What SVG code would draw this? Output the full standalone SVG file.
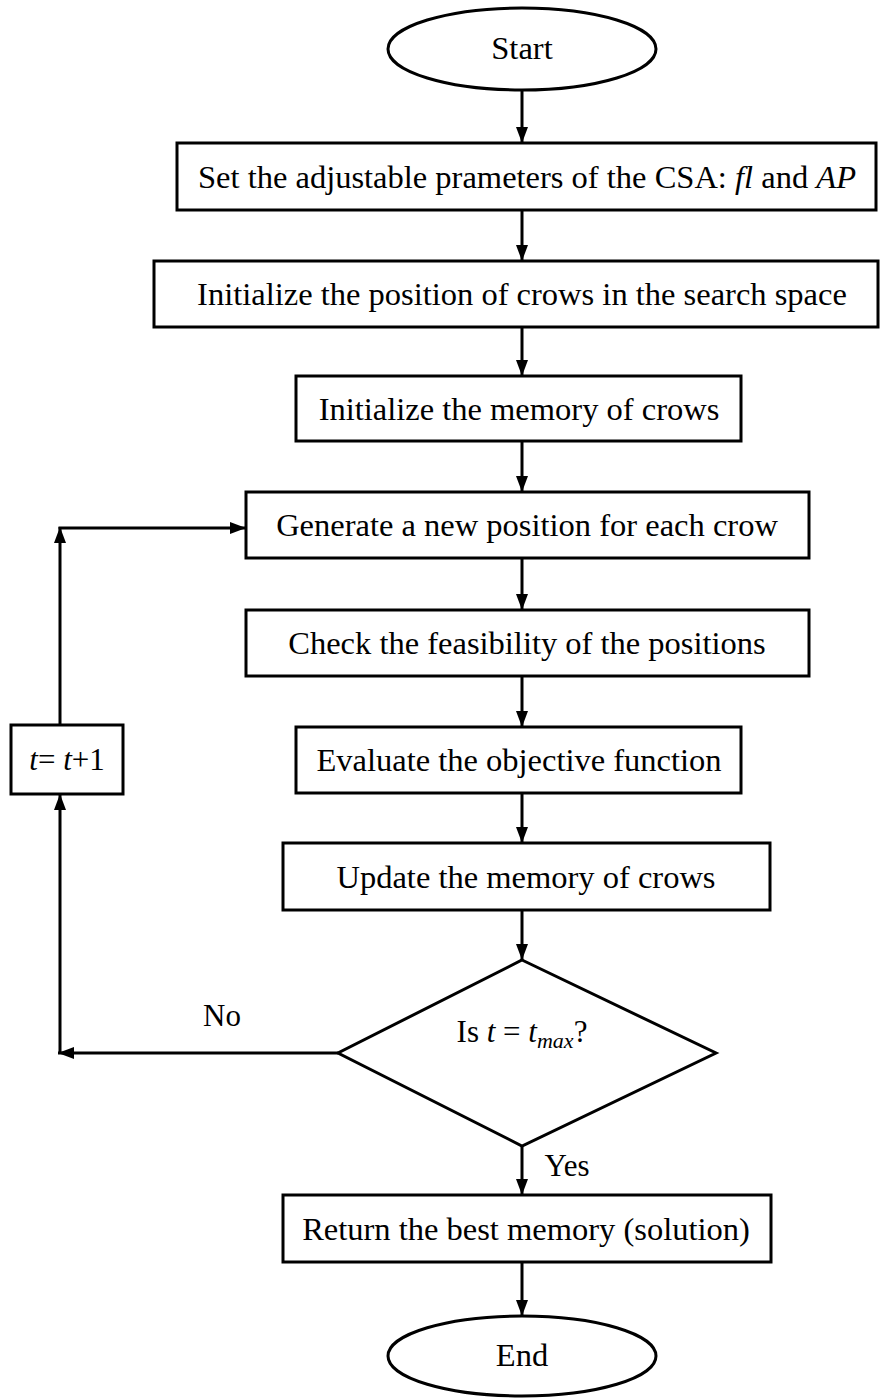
<svg xmlns="http://www.w3.org/2000/svg" width="880" height="1398" viewBox="0 0 880 1398">
<style>
.n{fill:#fff;stroke:#000;stroke-width:3}
.t{font-family:"Liberation Serif","Times New Roman",serif;font-size:32.5px;fill:#000;text-anchor:middle}
.s{font-size:31px}
.c{fill:none;stroke:#000;stroke-width:3}
.i{font-style:italic}
</style>
<defs>
<marker id="a" markerUnits="userSpaceOnUse" markerWidth="16" markerHeight="12" refX="16" refY="6" orient="auto">
<path d="M0,0 L16,6 L0,12 z" fill="#000"/>
</marker>
</defs>
<rect width="880" height="1398" fill="#fff"/>
<g id="connectors">
<line class="c" x1="522" y1="90" x2="522" y2="143" marker-end="url(#a)"/>
<line class="c" x1="522" y1="210" x2="522" y2="261" marker-end="url(#a)"/>
<line class="c" x1="522" y1="327" x2="522" y2="376" marker-end="url(#a)"/>
<line class="c" x1="522" y1="441" x2="522" y2="492" marker-end="url(#a)"/>
<line class="c" x1="522" y1="558" x2="522" y2="610" marker-end="url(#a)"/>
<line class="c" x1="522" y1="676" x2="522" y2="727" marker-end="url(#a)"/>
<line class="c" x1="522" y1="793" x2="522" y2="843" marker-end="url(#a)"/>
<line class="c" x1="522" y1="910" x2="522" y2="960" marker-end="url(#a)"/>
<line class="c" x1="522" y1="1146" x2="522" y2="1195" marker-end="url(#a)"/>
<line class="c" x1="522" y1="1262" x2="522" y2="1316" marker-end="url(#a)"/>
<line class="c" x1="338" y1="1053" x2="58" y2="1053" marker-end="url(#a)"/>
<line class="c" x1="60" y1="1054" x2="60" y2="794" marker-end="url(#a)"/>
<line class="c" x1="60" y1="725" x2="60" y2="527" marker-end="url(#a)"/>
<line class="c" x1="58.500" y1="528" x2="246" y2="528" marker-end="url(#a)"/>
<text class="t s" x="222" y="1026">No</text>
<text class="t s" x="567" y="1176">Yes</text>
</g>
<g id="start">
<ellipse class="n" cx="522" cy="49" rx="134" ry="41"/>
<text class="t" x="522" y="59">Start</text>
</g>
<g id="set-params">
<rect class="n" x="177" y="143" width="699" height="67"/>
<text class="t" x="527" y="188">Set the adjustable prameters of the CSA: <tspan class="i">fl</tspan> and <tspan class="i">AP</tspan></text>
</g>
<g id="init-position">
<rect class="n" x="154" y="261" width="724" height="66"/>
<text class="t" x="522" y="305">Initialize the position of crows in the search space</text>
</g>
<g id="init-memory">
<rect class="n" x="296" y="376" width="445" height="65"/>
<text class="t" x="519" y="420">Initialize the memory of crows</text>
</g>
<g id="generate">
<rect class="n" x="246" y="492" width="563" height="66"/>
<text class="t" x="527" y="536">Generate a new position for each crow</text>
</g>
<g id="check">
<rect class="n" x="246" y="610" width="563" height="66"/>
<text class="t" x="527" y="654">Check the feasibility of the positions</text>
</g>
<g id="evaluate">
<rect class="n" x="296" y="727" width="445" height="66"/>
<text class="t" x="519" y="771">Evaluate the objective function</text>
</g>
<g id="update">
<rect class="n" x="283" y="843" width="487" height="67"/>
<text class="t" x="526" y="888">Update the memory of crows</text>
</g>
<g id="decision">
<polygon class="n" points="522,960 716,1053 522,1146 338,1053"/>
<text class="t s" x="522" y="1042">Is <tspan class="i">t</tspan> = <tspan class="i">t</tspan><tspan class="i" font-size="22" dy="6">max</tspan><tspan dy="-6">?</tspan></text>
</g>
<g id="increment">
<rect class="n" x="11" y="725" width="112" height="69"/>
<text class="t s" x="67" y="770"><tspan class="i">t</tspan>= <tspan class="i">t</tspan>+1</text>
</g>
<g id="return">
<rect class="n" x="283" y="1195" width="488" height="67"/>
<text class="t" x="526" y="1240">Return the best memory (solution)</text>
</g>
<g id="end">
<ellipse class="n" cx="522" cy="1356" rx="134" ry="40"/>
<text class="t" x="522" y="1366">End</text>
</g>
</svg>
